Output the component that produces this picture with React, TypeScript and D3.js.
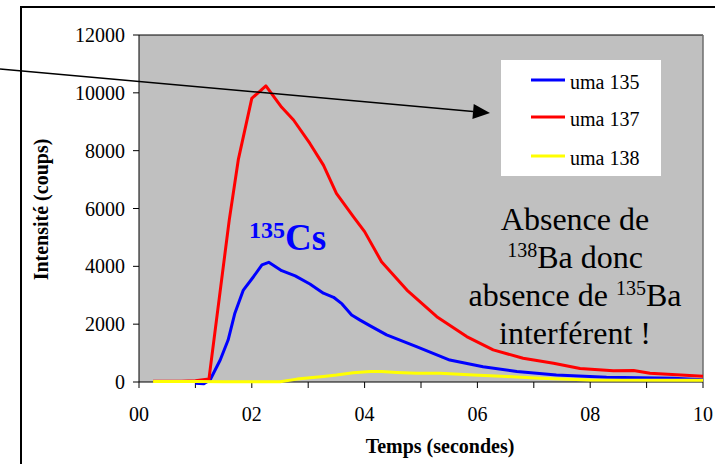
import React from "react";
import * as d3 from "d3";

// ---- data (time in seconds, intensity in counts) ----
const tRed = [0.25, 0.5, 0.75, 1.0, 1.24, 1.6, 1.76, 2.0, 2.25, 2.53, 2.74, 3.03, 3.27, 3.5, 3.8, 4.0, 4.3, 4.75, 5.28, 5.81, 6.28, 6.81, 7.35, 7.82, 8.41, 8.77, 9.06, 10.0];
const vRed = [30, 30, 30, 40, 100, 5600, 7680, 9810, 10240, 9500, 9060, 8250, 7500, 6520, 5720, 5200, 4160, 3180, 2260, 1570, 1110, 820, 650, 470, 390, 400, 300, 200];

const tBlue = [1.0, 1.15, 1.26, 1.44, 1.58, 1.7, 1.85, 2.03, 2.18, 2.3, 2.53, 2.77, 3.03, 3.27, 3.45, 3.6, 3.77, 3.92, 4.1, 4.39, 4.92, 5.51, 6.1, 6.7, 7.4, 8.29, 9.47, 10.0];
const vBlue = [-40, -60, 70, 760, 1450, 2380, 3180, 3640, 4050, 4140, 3850, 3670, 3390, 3070, 2930, 2700, 2320, 2140, 1940, 1630, 1220, 760, 530, 360, 240, 160, 130, 80];

const tYellow = [0.25, 0.5, 1.0, 1.5, 2.0, 2.5, 2.8, 3.27, 3.5, 3.8, 4.1, 4.3, 4.57, 4.92, 5.34, 5.93, 6.52, 7.11, 8.0, 10.0];
const vYellow = [20, 20, 20, 10, 10, 10, 100, 190, 240, 320, 360, 360, 330, 300, 300, 240, 190, 130, 70, 60];

const seriesNames = ["uma 135", "uma 137", "uma 138"];
const seriesColors = ["#0000FF", "#FF0000", "#FFFF00"];

const yTicks = [0, 2000, 4000, 6000, 8000, 10000, 12000];
const xMinorTicks = [0, 1, 2, 3, 4, 5, 6, 7, 8, 9, 10];
const xLabelTicks = [0, 2, 4, 6, 8, 10];
const xTickLabels = ["00", "02", "04", "06", "08", "10"];

const xTitle = "Temps (secondes)";
const yTitle = "Intensité (coups)";

const FONT = '"Liberation Serif", "DejaVu Serif", "Times New Roman", serif';

export default function App() {
  const W = 715, H = 464;
  const left = 139, right = 703, top = 35, bottom = 382;
  const x = d3.scaleLinear().domain([0, 10]).range([left, right]);
  const y = d3.scaleLinear().domain([0, 12000]).range([bottom, top]);
  const line = d3.line<[number, number]>().x((d) => x(d[0])).y((d) => y(d[1]));

  const zip = (t: number[], v: number[]) => t.map((tt, i) => [tt, v[i]] as [number, number]);
  const series = [zip(tBlue, vBlue), zip(tRed, vRed), zip(tYellow, vYellow)];

  // arrow geometry
  const ax0 = 0, ay0 = 69, ax1 = 490, ay1 = 113;
  const ang = Math.atan2(ay1 - ay0, ax1 - ax0);
  const hl = 17, hw = 7.5;
  const bx = ax1 - hl * Math.cos(ang), by = ay1 - hl * Math.sin(ang);
  const head = [
    [ax1, ay1],
    [bx - hw * Math.sin(ang), by + hw * Math.cos(ang)],
    [bx + hw * Math.sin(ang), by - hw * Math.cos(ang)],
  ];

  return (
    <svg
      width={W}
      height={H}
      style={{ position: "fixed", left: 0, top: 0, background: "#fff", fontFamily: FONT }}
    >
      <style>{`text, tspan { font-family: ${FONT}; }`}</style>
      {/* outer chart frame */}
      <rect x={21} y={7} width={W + 50} height={H + 50} fill="#fff" stroke="#000" strokeWidth={2} />

      {/* plot area */}
      <rect x={left} y={top} width={right - left} height={bottom - top} fill="#C0C0C0" />
      <line x1={left} x2={right} y1={top} y2={top} stroke="#000" strokeWidth={1} />
      <line x1={right} x2={right} y1={top} y2={bottom} stroke="#6e6e6e" strokeWidth={1.5} />

      {/* y axis */}
      <line x1={left} x2={left} y1={top} y2={bottom} stroke="#000" strokeWidth={1} />
      {yTicks.map((v) => (
        <g key={v}>
          <line x1={left - 6} x2={left} y1={y(v)} y2={y(v)} stroke="#000" />
          <text x={125} y={y(v) + 7} textAnchor="end" fontSize={20} fill="#000">
            {v}
          </text>
        </g>
      ))}

      {/* x axis */}
      <line x1={left} x2={right} y1={bottom} y2={bottom} stroke="#000" strokeWidth={1} />
      {xMinorTicks.map((t) => (
        <line key={t} x1={x(t)} x2={x(t)} y1={bottom} y2={bottom + 6} stroke="#000" />
      ))}
      {xLabelTicks.map((t, i) => (
        <text key={t} x={x(t)} y={421} textAnchor="middle" fontSize={20} fill="#000">
          {xTickLabels[i]}
        </text>
      ))}

      {/* titles */}
      <text x={440} y={453} textAnchor="middle" fontSize={20} fontWeight="bold" fill="#000">
        {xTitle}
      </text>
      <text
        transform={`translate(48, ${(top + bottom) / 2 + 1}) rotate(-90)`}
        textAnchor="middle"
        fontSize={20}
        fontWeight="bold"
        fill="#000"
      >
        {yTitle}
      </text>

      {/* series */}
      {series.map((s, i) => (
        <path
          key={i}
          d={line(s) || ""}
          fill="none"
          stroke={seriesColors[i]}
          strokeWidth={3}
          strokeLinejoin="round"
        />
      ))}

      {/* legend */}
      <rect x={501} y={60} width={160} height={116} fill="#fff" />
      {seriesNames.map((n, i) => {
        const ly = [80, 117, 156][i];
        return (
          <g key={n}>
            <line x1={531} x2={565} y1={ly} y2={ly} stroke={seriesColors[i]} strokeWidth={3} />
            <text x={570} y={ly + 9} fontSize={20} fill="#000">
              {n}
            </text>
          </g>
        );
      })}

      {/* arrow */}
      <line x1={ax0} y1={ay0} x2={bx} y2={by} stroke="#000" strokeWidth={1.5} />
      <polygon points={head.map((p) => p.join(",")).join(" ")} fill="#000" />

      {/* 135Cs label */}
      <text x={249} y={250} fill="#0000FF" fontWeight="bold">
        <tspan fontSize={24} dy={-12}>135</tspan>
        <tspan fontSize={37} dy={12}>Cs</tspan>
      </text>

      {/* annotation */}
      <g fontSize={32} fill="#000" textAnchor="middle">
        <text x={575} y={230}>Absence de</text>
        <text x={575} y={268}>
          <tspan fontSize={20} dy={-11}>138</tspan>
          <tspan dy={11}>Ba donc</tspan>
        </text>
        <text x={575} y={306}>
          <tspan>absence de </tspan>
          <tspan fontSize={20} dy={-11}>135</tspan>
          <tspan dy={11}>Ba</tspan>
        </text>
        <text x={575} y={344}>interférent !</text>
      </g>
    </svg>
  );
}
